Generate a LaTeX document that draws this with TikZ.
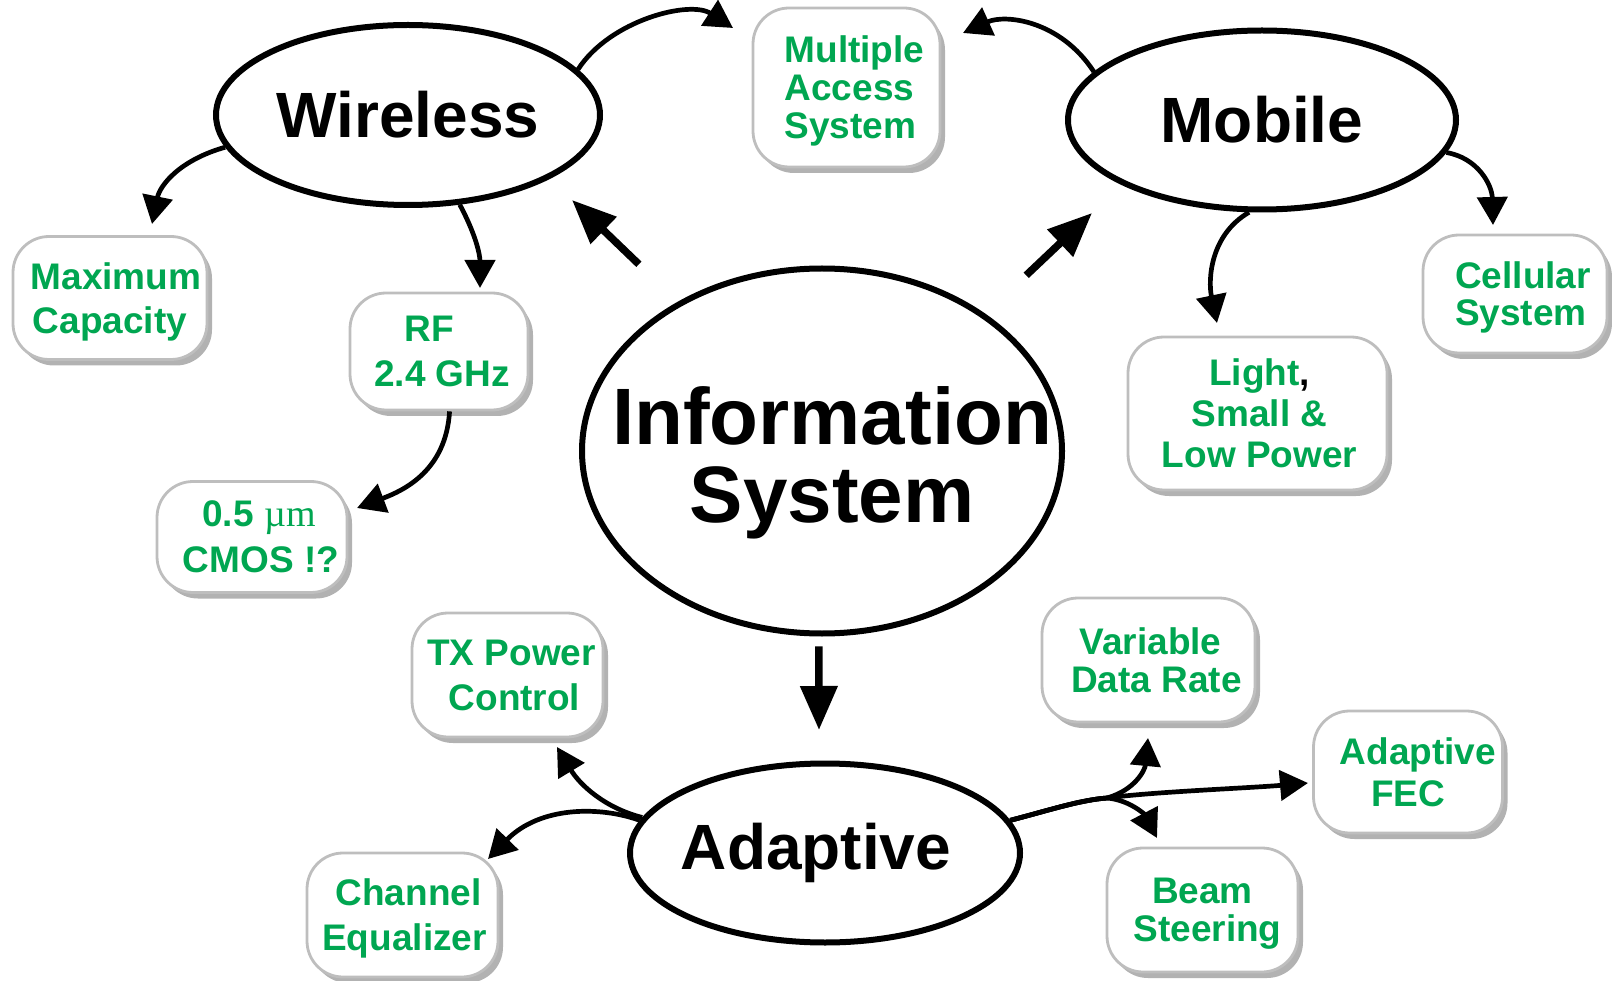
\documentclass[tikz,border=0pt]{standalone}
\usepackage{fontspec}
\setmainfont{Liberation Sans}
\newfontfamily\unitfont{Liberation Serif}
\usetikzlibrary{shapes.geometric,arrows.meta,shadows}
\definecolor{leafgreen}{RGB}{0,166,81}
\definecolor{rimgrey}{RGB}{190,190,190}
\definecolor{shadegrey}{RGB}{178,178,178}
\tikzset{
  topic/.style={ellipse, draw, line width=6pt, inner sep=-60pt,
    font=\fontsize{64}{66}\selectfont\bfseries},
  card/.style={rectangle, rounded corners=36pt, draw=rimgrey, line width=2.8pt,
    fill=white, text=leafgreen, align=center, inner sep=0pt, text depth=0pt,
    font=\fontsize{37}{38}\selectfont\bfseries,
    drop shadow={shadow xshift=5pt, shadow yshift=-6pt, fill=shadegrey, opacity=1}},
  link/.style={line width=4.7pt, -{Triangle[length=28pt,width=30pt]}},
  spoke/.style={line width=7.5pt, -{Triangle[length=44pt,width=36pt]}},
}
\newcommand{\lsp}[1]{\fontsize{37}{#1}\selectfont\bfseries}
\newcommand{\ind}[1]{\hspace*{#1pt}}
\begin{document}
\begin{tikzpicture}[x=1pt,y=-1pt]
\useasboundingbox (0,0) rectangle (1612,981);

% main topics
\node[topic, minimum width=384pt, minimum height=180pt] (wl) at (408,115) {Wireless};
\node[topic, minimum width=388pt, minimum height=179pt] (mb) at (1262,120) {Mobile};
\node[topic, minimum width=480pt, minimum height=365pt,
      label={[align=center, text depth=0pt, xshift=10pt, yshift=-4pt,
              font=\fontsize{80}{78}\selectfont\bfseries]center:Information\\System}]
      (is) at (822,451) {};
\node[topic, minimum width=390pt, minimum height=179pt] (ad) at (825,853) {Adaptive\ind{18}};

% feature cards
\node[card, minimum width=187pt, minimum height=159pt, align=left] (ma) at (846.5,87.5)
  {\ind{16}Multiple\\\ind{16}Access\\\ind{16}System};
\node[card, minimum width=194pt, minimum height=123pt, font=\lsp{44}] (mc) at (110,298)
  {\ind{12}Maximum\\Capacity};
\node[card, minimum width=178pt, minimum height=117pt, font=\lsp{45}] (rf) at (439,351.5)
  {RF\ind{20}\\\ind{6}2.4 GHz};
\node[card, minimum width=190pt, minimum height=111pt, font=\lsp{46}] (cm) at (252,537)
  {\ind{14}0.5 {\unitfont\mdseries\fontsize{38}{46}\selectfont µm}\\\ind{18}CMOS !?};
\node[card, minimum width=259pt, minimum height=153pt, font=\lsp{41}] (lt) at (1257.5,413.5)
  {\ind{4}Light{\color{black},}\\\ind{4}Small \&\\\ind{4}Low Power};
\node[card, minimum width=184pt, minimum height=118pt, font=\lsp{37}, align=left] (cs) at (1515,294)
  {\ind{16}Cellular\\\ind{16}System};
\node[card, minimum width=191pt, minimum height=124pt, font=\lsp{45}] (tx) at (507.5,675)
  {\ind{8}TX Power\\\ind{14}Control};
\node[card, minimum width=191pt, minimum height=124pt, font=\lsp{45}] (ce) at (402.5,915)
  {\ind{12}Channel\\\ind{4}Equalizer};
\node[card, minimum width=213pt, minimum height=124pt, font=\lsp{38}] (vd) at (1148.5,660)
  {\ind{4}Variable\\\ind{16}Data Rate};
\node[card, minimum width=189pt, minimum height=122pt, font=\lsp{42}] (fe) at (1408,772)
  {\ind{20}Adaptive\\FEC};
\node[card, minimum width=191pt, minimum height=124pt, font=\lsp{38}] (bs) at (1202.5,910)
  {Beam\\\ind{10}Steering};

% arrow tip positions
\coordinate (tMA1) at (733,28);
\coordinate (tMA2) at (963,33);
\coordinate (tMC) at (152,224);
\coordinate (tRF) at (480,288);
\coordinate (tCM) at (357,508);
\coordinate (tCS) at (1493,225);
\coordinate (tLT) at (1217,323);
\coordinate (tWL) at (572,200);
\coordinate (tMB) at (1092,213);
\coordinate (tAD) at (819,730);
\coordinate (tTX) at (557,747);
\coordinate (tCE) at (488,859);
\coordinate (fork) at (1107,798);
\coordinate (tVD) at (1148,738);
\coordinate (tFE) at (1308,783);
\coordinate (tBS) at (1157,838);

% spokes from the centre
\draw[spoke, shorten <=54pt] (is.134) -- (tWL);
\draw[spoke, shorten <=56pt] (is.40) -- (tMB);
\draw[spoke, shorten <=10pt] (is.-91) -- (tAD);

% Wireless branches
\draw[link] (wl.15) .. controls (610,20) and (690,0) .. (tMA1);
\draw[link] (wl.190) .. controls (180,160) and (160,185) .. (tMC);
\draw[link] (wl.-60) .. controls (476,235) and (480,255) .. (tRF);
\draw[link] (rf.-80) .. controls (446,470) and (405,490) .. (tCM);

% Mobile branches
\draw[link] (mb.164) .. controls (1060,20) and (1005,14) .. (tMA2);
\draw[link] (mb.350) .. controls (1478,158) and (1492,185) .. (tCS);
\draw[link] (mb.262) .. controls (1210,235) and (1208,280) .. (tLT);

% Adaptive branches
\draw[link] (ad.169) .. controls (605,808) and (580,785) .. (tTX);
\draw[link] (ad.170) .. controls (600,806) and (540,806) .. (tCE);
\draw[link] (ad.10) .. controls (1050,810) and (1080,800) .. (fork)
                    .. controls (1135,790) and (1145,770) .. (tVD);
\draw[link] (ad.10) .. controls (1050,810) and (1080,800) .. (fork)
                    .. controls (1150,792) and (1250,788) .. (tFE);
\draw[link] (ad.10) .. controls (1050,810) and (1080,800) .. (fork)
                    .. controls (1130,800) and (1145,815) .. (tBS);
\end{tikzpicture}
\end{document}
